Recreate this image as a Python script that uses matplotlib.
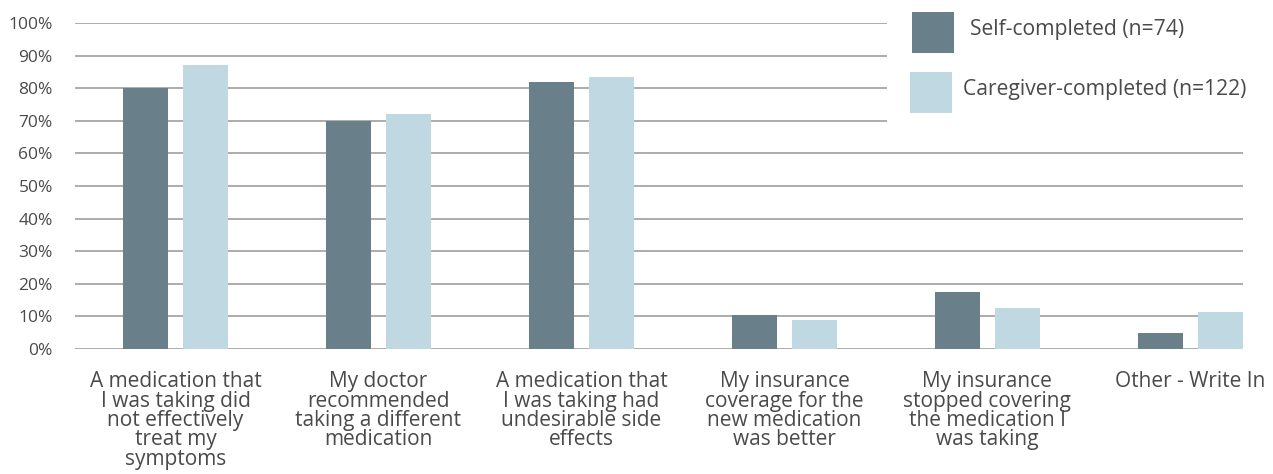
import numpy as np
import matplotlib
matplotlib.use("Agg")
import matplotlib.pyplot as plt
from matplotlib.patches import Rectangle

plt.rcParams['font.family'] = ['Open Sans', 'DejaVu Sans']

categories = [
    "A medication that\nI was taking did\nnot effectively\ntreat my\nsymptoms",
    "My doctor\nrecommended\ntaking a different\nmedication",
    "A medication that\nI was taking had\nundesirable side\neffects",
    "My insurance\ncoverage for the\nnew medication\nwas better",
    "My insurance\nstopped covering\nthe medication I\nwas taking",
    "Other - Write In",
]
self_completed = [80, 70, 82, 10.5, 17.5, 5]
caregiver_completed = [87, 72, 83.5, 9, 12.5, 11.5]
series_names = ["Self-completed (n=74)", "Caregiver-completed (n=122)"]
yticks = np.arange(0, 101, 10)

c_self = "#697f8a"
c_care = "#bfd8e2"
txt = "#4a4a4a"

W, H = 1273, 474
fig = plt.figure(figsize=(W/100, H/100), dpi=100)
ax = fig.add_axes([75/W, (H-349)/H, 1168/W, 326/H])

x = np.arange(len(categories))
w = 0.222
off = 0.148
ax.bar(x - off, self_completed, w, color=c_self, zorder=3)
ax.bar(x + off, caregiver_completed, w, color=c_care, zorder=3)

ax.set_ylim(0, 100)
ax.set_xlim(-0.495, 5.259)
ax.set_yticks(yticks)
ax.set_yticklabels([f"{v}%" for v in yticks], fontsize=12.5, color=txt)
ax.yaxis.grid(True, color="#a6a6a6", linewidth=1.3, zorder=0)
ax.set_axisbelow(True)
ax.tick_params(axis="y", length=0, pad=16)
ax.tick_params(axis="x", length=0, pad=16)
ax.set_xticks(x)
ax.set_xticklabels(categories, fontsize=15, color=txt, linespacing=0.9, va="top")
for s in ax.spines.values():
    s.set_visible(False)

# white block behind the legend hides the gridlines there
ax.add_patch(Rectangle((887/W, 1 - 126/H), 1 - 887/W, 126/H,
                       transform=fig.transFigure, facecolor="white",
                       edgecolor="none", zorder=2, clip_on=False))

# legend drawn by hand: big square swatches with the label beside them
swatch_x = [912, 910]
text_x = [970, 963]
for i, (name, col) in enumerate(zip(series_names, [c_self, c_care])):
    top = 12 + 60 * i
    ax.add_patch(Rectangle((swatch_x[i]/W, 1 - (top + 41)/H), 42/W, 41/H,
                           transform=fig.transFigure, facecolor=col,
                           edgecolor="none", zorder=4, clip_on=False))
    fig.text(text_x[i]/W, 1 - (top + 18)/H, name, fontsize=15.2, color=txt,
             ha="left", va="center")

fig.savefig("out.png", dpi=100)
